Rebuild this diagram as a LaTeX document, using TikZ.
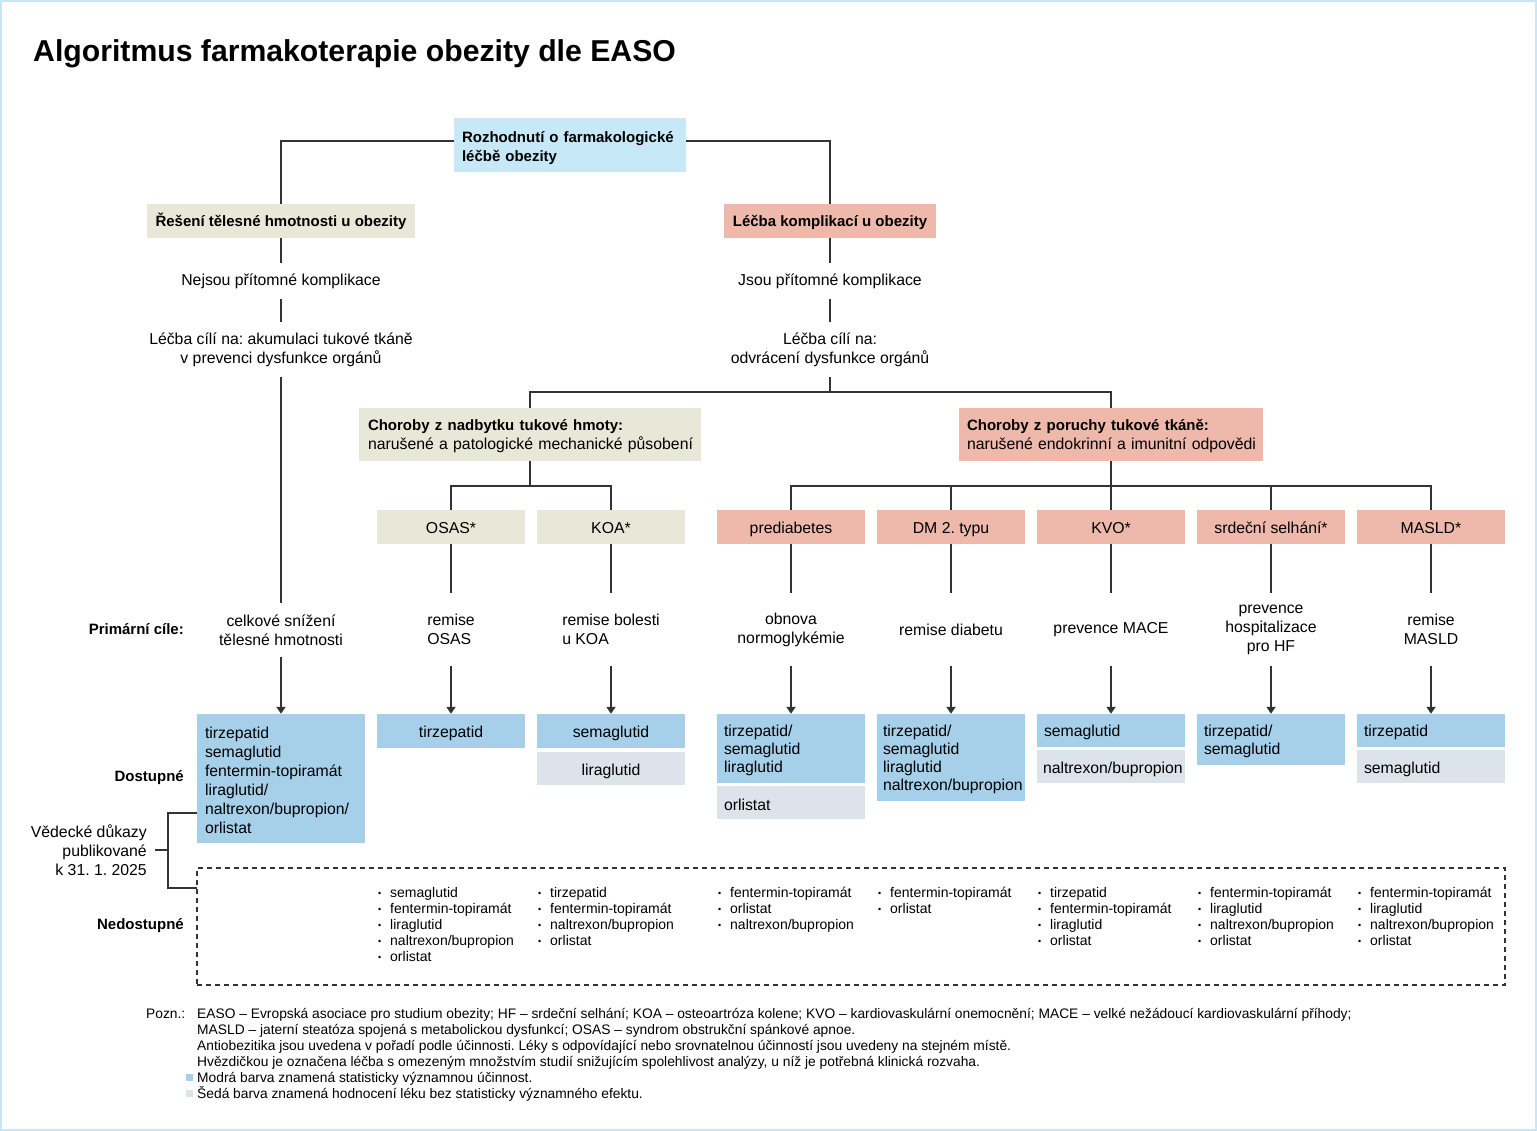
\documentclass[tikz,border=0pt]{standalone}
\usepackage{fontspec}
\setmainfont{Liberation Sans}
\usetikzlibrary{positioning,arrows.meta}
\frenchspacing

\definecolor{topblue}{HTML}{C6E8F7}
\definecolor{beige}{HTML}{E8E8D8}
\definecolor{salmon}{HTML}{EEB8AA}
\definecolor{availblue}{HTML}{A6D0EA}
\definecolor{availgrey}{HTML}{DDE3EA}
\definecolor{framecol}{HTML}{C8E6F5}
\definecolor{linecol}{HTML}{333333}

\newcommand{\txtreg}{\fontsize{15.8}{19}\selectfont}
\newcommand{\txtbold}{\fontsize{15}{19}\selectfont\bfseries}
\newcommand{\txtsmall}{\fontsize{14}{16}\selectfont}
\newcommand{\itm}{\makebox[12pt][l]{\raisebox{1pt}{\fontsize{9}{9}\selectfont\textbullet}}}

\begin{document}
\begin{tikzpicture}[%
  x=1pt, y=-1pt,
  node distance=160pt,
  linestyle/.style={%
    draw=linecol,
    line width=1.8pt,
  },
  arrowstyle/.style={%
    linestyle,
    -{Triangle[width=9pt,length=7pt]},
  },
  topbox/.style={%
    rectangle,
    fill=topblue,
    inner xsep=8pt,
    inner ysep=0pt,
    text width=216pt,
    minimum height=54pt,
    align=left,
    font=\txtbold,
    execute at begin node=\rule{0pt}{17pt},
  },
  headbox/.style={%
    rectangle,
    inner sep=0pt,
    minimum height=34pt,
    text height=12pt,
    text depth=0pt,
    font=\txtbold,
  },
  groupbox/.style={%
    rectangle,
    inner ysep=0pt,
    minimum height=53pt,
    align=left,
    font=\txtreg,
    execute at begin node=\rule{0pt}{15pt},
  },
  catbox/.style={%
    rectangle,
    inner sep=0pt,
    minimum width=148pt,
    minimum height=34pt,
    text height=12pt,
    text depth=0pt,
    font=\txtreg,
  },
  plaintext/.style={%
    inner sep=0pt,
    align=center,
    font=\txtreg,
  },
  drugbox/.style={%
    rectangle,
    fill=availblue,
    inner xsep=7pt,
    inner ysep=0pt,
    text width=134pt,
    align=left,
    font=\fontsize{15.8}{18}\selectfont,
    execute at begin node=\rule{0pt}{15.5pt},
  },
  sidelabel/.style={%
    anchor=east,
    inner sep=0pt,
    font=\txtbold,
  },
  listtext/.style={%
    anchor=north west,
    inner sep=0pt,
    align=left,
    font=\txtsmall,
    execute at begin node=\rule{0pt}{10pt},
  },
]
  \useasboundingbox (0,0) rectangle (1537,1131);
  \draw[framecol, line width=2pt] (1,1) rectangle (1536,1130);

  \node[anchor=base west, inner sep=0pt, font=\fontsize{30.2}{36}\selectfont\bfseries] (title) at (33,62) {Algoritmus farmakoterapie obezity dle EASO};

  % top of the tree
  \node[topbox] (top) at (570,145) {Rozhodnutí o farmakologické\\léčbě obezity};
  \node[headbox, fill=beige, minimum width=268pt] (reseni) at (281,221) {Řešení tělesné hmotnosti u obezity};
  \node[headbox, fill=salmon, minimum width=212pt] (lecba) at (830,221) {Léčba komplikací u obezity};

  \node[plaintext, minimum height=36pt] (nejsou) at (281,281) {Nejsou přítomné komplikace};
  \node[plaintext, minimum height=36pt] (jsou) at (830,281) {Jsou přítomné komplikace};
  \node[plaintext, minimum height=55pt] (cili1) at (281,349.5) {Léčba cílí na: akumulaci tukové tkáně\\v prevenci dysfunkce orgánů};
  \node[plaintext, minimum height=55pt] (cili2) at (830,349.5) {Léčba cílí na:\\odvrácení dysfunkce orgánů};

  \node[groupbox, fill=beige, inner xsep=9pt, text width=324pt] (nadbytek) at (530,434.5) {\mbox{\txtbold Choroby z nadbytku tukové hmoty:}\\\mbox{narušené a patologické mechanické působení}};
  \node[groupbox, fill=salmon, inner xsep=8pt, text width=288pt] (porucha) at (1111,434.5) {\mbox{\txtbold Choroby z poruchy tukové tkáně:}\\\mbox{narušené endokrinní a imunitní odpovědi}};

  % complications
  \node[catbox, fill=beige] (osas) at (451,527) {OSAS*};
  \node[catbox, fill=beige, right of=osas] (koa) {KOA*};
  \node[catbox, fill=salmon] (prediab) at (791,527) {prediabetes};
  \node[catbox, fill=salmon, right of=prediab] (dm) {DM 2. typu};
  \node[catbox, fill=salmon, right of=dm] (kvo) {KVO*};
  \node[catbox, fill=salmon, right of=kvo] (hf) {srdeční selhání*};
  \node[catbox, fill=salmon, right of=hf] (masld) {MASLD*};

  % primary goals
  \node[sidelabel] (primarni) at (184,629.5) {Primární cíle:};
  \node[plaintext, minimum height=54pt] (goalweight) at (281,630) {celkové snížení\\tělesné hmotnosti};
  \node[plaintext, minimum height=73pt, align=left] (goalosas) at (451,629.5) {remise\\OSAS};
  \node[plaintext, minimum height=73pt, align=left] (goalkoa) at (611,629.5) {remise bolesti\\u KOA};
  \node[plaintext, minimum height=73pt] (goalprediab) at (791,629.5) {obnova\\normoglykémie};
  \node[plaintext, minimum height=73pt] (goaldm) at (951,629.5) {remise diabetu};
  \node[plaintext, minimum height=73pt] (goalkvo) at (1111,629.5) {prevence MACE};
  \node[plaintext, minimum height=73pt] (goalhf) at (1271,629.5) {prevence\\hospitalizace\\pro HF};
  \node[plaintext, minimum height=73pt] (goalmasld) at (1431,629.5) {remise\\MASLD};

  % available drugs
  \node[sidelabel] (dostupne) at (184,778) {Dostupné};
  \node[drugbox, inner xsep=8pt, text width=152pt, minimum height=129pt, font=\txtreg] (blueweight) at (281,778.5) {tirzepatid\\semaglutid\\fentermin-topiramát\\liraglutid/\\naltrexon/bupropion/\\orlistat};
  \node[drugbox, align=center, minimum height=34pt] (blueosas) at (451,731) {tirzepatid};
  \node[drugbox, align=center, minimum height=34pt] (bluekoa) at (611,731) {semaglutid};
  \node[drugbox, fill=availgrey, align=center, minimum height=33pt, below=4pt of bluekoa] (greykoa) {liraglutid};
  \node[drugbox, minimum height=69pt] (blueprediab) at (791,748.5) {tirzepatid/\\semaglutid\\liraglutid};
  \node[drugbox, fill=availgrey, minimum height=33pt, below=3pt of blueprediab] (greyprediab) {orlistat};
  \node[drugbox, inner xsep=6pt, text width=136pt, minimum height=87pt] (bluedm) at (951,757.5) {tirzepatid/\\semaglutid\\liraglutid\\naltrexon/bupropion};
  \node[drugbox, minimum height=33pt] (bluekvo) at (1111,730.5) {semaglutid};
  \node[drugbox, fill=availgrey, inner xsep=6pt, text width=136pt, minimum height=33pt, below=3pt of bluekvo] (greykvo) {naltrexon/bupropion};
  \node[drugbox, minimum height=51pt] (bluehf) at (1271,739.5) {tirzepatid/\\semaglutid};
  \node[drugbox, minimum height=33pt] (bluemasld) at (1431,730.5) {tirzepatid};
  \node[drugbox, fill=availgrey, minimum height=33pt, below=3pt of bluemasld] (greymasld) {semaglutid};

  % unavailable drugs
  \node[sidelabel] (nedostupne) at (184,926) {Nedostupné};
  \node[draw=linecol, line width=1.1pt, dash pattern=on 5pt off 4pt, inner sep=0pt, minimum width=1308pt, minimum height=117pt] (nedost) at (851,926.5) {};
  \node[listtext] (listosas) at (378,887) {\itm semaglutid\\\itm fentermin-topiramát\\\itm liraglutid\\\itm naltrexon/bupropion\\\itm orlistat};
  \node[listtext] (listkoa) at (538,887) {\itm tirzepatid\\\itm fentermin-topiramát\\\itm naltrexon/bupropion\\\itm orlistat};
  \node[listtext] (listprediab) at (718,887) {\itm fentermin-topiramát\\\itm orlistat\\\itm naltrexon/bupropion};
  \node[listtext] (listdm) at (878,887) {\itm fentermin-topiramát\\\itm orlistat};
  \node[listtext] (listkvo) at (1038,887) {\itm tirzepatid\\\itm fentermin-topiramát\\\itm liraglutid\\\itm orlistat};
  \node[listtext] (listhf) at (1198,887) {\itm fentermin-topiramát\\\itm liraglutid\\\itm naltrexon/bupropion\\\itm orlistat};
  \node[listtext] (listmasld) at (1358,887) {\itm fentermin-topiramát\\\itm liraglutid\\\itm naltrexon/bupropion\\\itm orlistat};

  \node[anchor=east, inner sep=0pt, align=right, font=\txtreg] (vedecke) at (147,850) {Vědecké důkazy\\publikované\\k 31. 1. 2025};

  % notes
  \node[listtext, font=\fontsize{13.8}{16}\selectfont] (pozn) at (146,1008) {Pozn.:};
  \node[listtext, font=\fontsize{13.8}{16}\selectfont] (notes) at (197,1008) {EASO – Evropská asociace pro studium obezity; HF – srdeční selhání; KOA – osteoartróza kolene; KVO – kardiovaskulární onemocnění; MACE – velké nežádoucí kardiovaskulární příhody;\\MASLD – jaterní steatóza spojená s metabolickou dysfunkcí; OSAS – syndrom obstrukční spánkové apnoe.\\Antiobezitika jsou uvedena v pořadí podle účinnosti. Léky s odpovídající nebo srovnatelnou účinností jsou uvedeny na stejném místě.\\Hvězdičkou je označena léčba s omezeným množstvím studií snižujícím spolehlivost analýzy, u níž je potřebná klinická rozvaha.\\Modrá barva znamená statisticky významnou účinnost.\\Šedá barva znamená hodnocení léku bez statisticky významného efektu.};
  \fill[availblue] (186,1074) rectangle (193,1081);
  \fill[availgrey] (186,1090) rectangle (193,1097);

  % connectors
  \draw[linestyle] ([yshift=4pt]top.west) -| (reseni.north);
  \draw[linestyle] ([yshift=4pt]top.east) -| (lecba.north);
  \draw[linestyle] (reseni.south) -- (nejsou.north);
  \draw[linestyle] (nejsou.south) -- (cili1.north);
  \draw[linestyle] (cili1.south) -- (goalweight.north);
  \draw[linestyle] (lecba.south) -- (jsou.north);
  \draw[linestyle] (jsou.south) -- (cili2.north);
  \coordinate (split) at (830,392);
  \draw[linestyle] (cili2.south) -- (split);
  \draw[linestyle] (nadbytek.north) |- (split) -| (porucha.north);

  \coordinate (bar1) at (530,486);
  \coordinate (bar2) at (1111,486);
  \draw[linestyle] (nadbytek.south) -- (bar1);
  \draw[linestyle] (osas.north) |- (bar1) -| (koa.north);
  \draw[linestyle] (porucha.south) -- (kvo.north);
  \draw[linestyle] (prediab.north) |- (bar2) -| (masld.north);
  \draw[linestyle] (dm.north) -- (dm.north |- bar2);
  \draw[linestyle] (hf.north) -- (hf.north |- bar2);

  \draw[linestyle] (osas.south) -- (goalosas.north);
  \draw[linestyle] (koa.south) -- (goalkoa.north);
  \draw[linestyle] (prediab.south) -- (goalprediab.north);
  \draw[linestyle] (dm.south) -- (goaldm.north);
  \draw[linestyle] (kvo.south) -- (goalkvo.north);
  \draw[linestyle] (hf.south) -- (goalhf.north);
  \draw[linestyle] (masld.south) -- (goalmasld.north);

  \draw[arrowstyle] (goalweight.south) -- (blueweight.north);
  \draw[arrowstyle] (goalosas.south) -- (blueosas.north);
  \draw[arrowstyle] (goalkoa.south) -- (bluekoa.north);
  \draw[arrowstyle] (goalprediab.south) -- (blueprediab.north);
  \draw[arrowstyle] (goaldm.south) -- (bluedm.north);
  \draw[arrowstyle] (goalkvo.south) -- (bluekvo.north);
  \draw[arrowstyle] (goalhf.south) -- (bluehf.north);
  \draw[arrowstyle] (goalmasld.south) -- (bluemasld.north);

  % evidence bracket
  \coordinate (brtop) at (197,813);
  \coordinate (brmid) at (168,850);
  \coordinate (brbot) at (197,888);
  \draw[linestyle] (brtop) -| (brmid) |- (brbot);
  \draw[linestyle, shorten <=8pt] (vedecke.east) -- (brmid);
\end{tikzpicture}
\end{document}
